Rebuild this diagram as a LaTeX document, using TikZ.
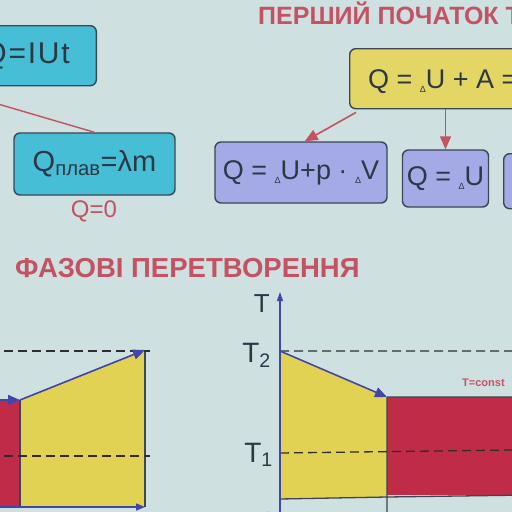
\documentclass[tikz,border=0pt]{standalone}
\usepackage{fontspec}
\setmainfont{Liberation Sans}
\usetikzlibrary{arrows.meta}
\definecolor{bg}{RGB}{206,224,224}
\definecolor{boxcyan}{RGB}{70,190,214}
\definecolor{boxyellow}{RGB}{228,214,100}
\definecolor{boxlilac}{RGB}{164,170,230}
\definecolor{boxline}{RGB}{60,70,85}
\definecolor{boxtext}{RGB}{45,55,70}
\definecolor{slidered}{RGB}{196,82,98}
\definecolor{areared}{RGB}{192,44,72}
\definecolor{areayellow}{RGB}{226,210,84}
\definecolor{arrowblue}{RGB}{66,70,170}
\definecolor{dashgray}{RGB}{45,45,50}
\newcommand{\fs}[1]{\fontsize{#1}{#1}\selectfont}
\newcommand{\dlt}{{\fs{9}\raisebox{-4pt}{Δ}}}
\begin{document}
\begin{tikzpicture}[x=1pt, y=-1pt, font=\fs{27}, text=boxtext,
    box/.style={draw=boxline, line width=1.4pt, rounded corners=6pt, inner sep=0pt},
    cyanbox/.style={box, fill=boxcyan},
    yellowbox/.style={box, fill=boxyellow},
    lilacbox/.style={box, fill=boxlilac},
    title/.style={text=slidered, inner sep=0pt},
    redarrow/.style={draw=slidered, line width=1.6pt, -{Triangle[length=13pt,width=11pt]}},
    bluearrow/.style={draw=arrowblue, line width=1.6pt, -{Triangle[length=12pt,width=10pt]}},
    dashline/.style={draw=dashgray, line width=1.3pt, dash pattern=on 9pt off 5pt},
    edge/.style={draw=boxline, line width=1.3pt}]
\useasboundingbox (0,0) rectangle (512,512);
\clip (0,0) rectangle (512,512);
\fill[bg] (0,0) rectangle (512,512);
\node[title, font=\fs{25}\bfseries, anchor=base west] (first) at (258,24) {ПЕРШИЙ ПОЧАТОК ТЕРМОДИНАМІКИ};
\node[title, font=\fs{27.5}\bfseries, anchor=base west] (phase) at (15,277) {ФАЗОВІ ПЕРЕТВОРЕННЯ};
% boxes
\node[cyanbox, minimum width=200pt, minimum height=60pt, anchor=north east] (qiut) at (97,25) {};
\node[font=\fs{30}\addfontfeature{LetterSpace=6}, anchor=base east, inner sep=0pt] (qiuttxt) at (70,63) {Q=IUt};
\node[cyanbox, font=\fs{29}, minimum width=161pt, minimum height=62pt] (qplav) at (94.5,164) {Q\textsubscript{плав}=λm};
\node[text=slidered, font=\fs{24}] (qzero) at (94,211) {Q=0};
\coordinate (src) at (-60,87);
\draw[draw=slidered, line width=1.4pt] (src) -- (qplav.north);
\node[yellowbox, minimum width=200pt, minimum height=60pt, anchor=north west] (qfirst) at (349,48) {};
\node[anchor=base west, inner sep=0pt] (qfirsttxt) at (368,88) {Q = \dlt U + A =};
\node[lilacbox, minimum width=172pt, minimum height=61pt] (qv) at (301,172.5) {Q = \dlt U+p · \dlt V};
\node[lilacbox, minimum width=86pt, minimum height=57pt] (qu) at (445.5,178.5) {Q = \dlt U};
\node[lilacbox, minimum width=86pt, minimum height=55pt, anchor=north west] (qa) at (503,153) {};
\draw[redarrow] ([xshift=7pt, yshift=-3pt]qfirst.south west) -- ([xshift=-83pt]qv.north east);
\draw[redarrow] (qfirst.south west -| qu.north) -- (qu.north);
% left graph
\coordinate (a1) at (-20,400); \coordinate (a2) at (20,400); \coordinate (a3) at (145,350);
\coordinate (a4) at (145,507); \coordinate (a5) at (20,507); \coordinate (a6) at (-20,507);
\fill[areared] (a1) -- (a2) -- (a5) -- (a6) -- cycle;
\fill[areayellow] (a2) -- (a3) -- (a4) -- (a5) -- cycle;
\draw[edge] (a2) -- (a5) (a3) -- (a4);
\draw[dashline] (-10,351) -- (150,351) (-10,456) -- (150,456);
\draw[bluearrow] (a1) -- (a2);
\draw[bluearrow] (a2) -- (a3);
\draw[bluearrow, -{Triangle[length=9pt,width=7pt]}] (a6) -- (a4);
% right graph
\coordinate (b0) at (280,515); \coordinate (b1) at (280,351); \coordinate (b2) at (387,397);
\coordinate (b3) at (387,497); \coordinate (b4) at (280,499); \coordinate (b5) at (530,397);
\coordinate (b6) at (530,495);
\fill[areayellow] (b1) -- (b2) -- (b3) -- (b4) -- cycle;
\fill[areared] (b2) rectangle (b6);
\draw[edge] (b1) -- (b4) -- (b3) -- (b6) (b2) -- (b5) (b2) -- (387,515);
\draw[dashline] (b1) -- (512,351) (280,453) -- (512,450);
\draw[draw=arrowblue, line width=1.2pt, -{Triangle[length=9pt,width=6pt]}] (b0) -- (280,292);
\draw[bluearrow] (b1) -- (b2);
\node[font=\fs{26}, anchor=base east, inner sep=0pt] (taxis) at (270,312) {T};
\node[font=\fs{28}, anchor=base east, inner sep=0pt] (t2) at (271,362) {T\textsubscript{2}};
\node[font=\fs{28}, anchor=base east, inner sep=0pt] (t1) at (273,462) {T\textsubscript{1}};
\node[font=\fs{26}, anchor=base, inner sep=0pt] (orig) at (268,530) {0};
\node[text=slidered, font=\fs{11}\bfseries, anchor=base west, inner sep=0pt] (tconst) at (462,386) {T=const};
\end{tikzpicture}
\end{document}
